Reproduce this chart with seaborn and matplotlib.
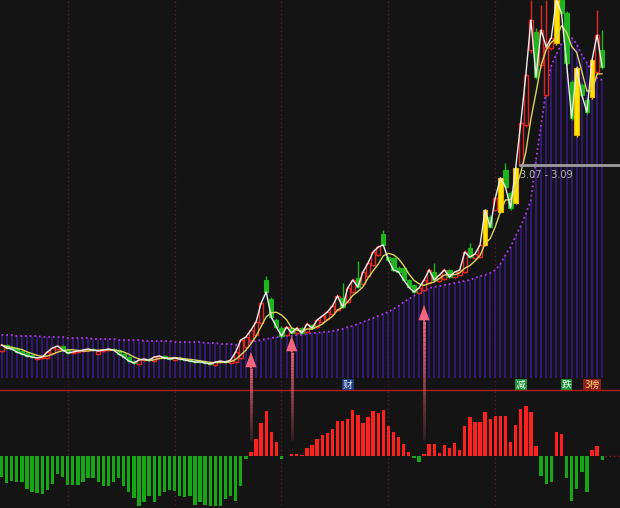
import numpy as np
import pandas as pd
import seaborn as sns
import matplotlib.pyplot as plt
from matplotlib.collections import LineCollection

BG = '#141414'
sns.set_style('dark', {'axes.facecolor': BG, 'figure.facecolor': BG})
plt.rcParams['font.family'] = ['Noto Sans CJK SC', 'DejaVu Sans']

# daily candles (price)
opens = [1.22, 1.28, 1.26, 1.25, 1.22, 1.20, 1.18, 1.14, 1.15, 1.15,
         1.20, 1.24, 1.27, 1.23, 1.20, 1.21, 1.22, 1.23, 1.24, 1.19,
         1.22, 1.23, 1.24, 1.23, 1.19, 1.16, 1.12, 1.09, 1.13, 1.14,
         1.12, 1.15, 1.17, 1.15, 1.13, 1.15, 1.14, 1.13, 1.12, 1.12,
         1.11, 1.10, 1.08, 1.11, 1.12, 1.10, 1.11, 1.15, 1.26, 1.33,
         1.38, 1.50, 1.93, 1.74, 1.53, 1.45, 1.38, 1.45, 1.40, 1.45,
         1.41, 1.48, 1.46, 1.51, 1.54, 1.59, 1.63, 1.75, 1.71, 1.81,
         1.95, 1.89, 1.97, 2.08, 2.18, 2.39, 2.16, 2.15, 2.05, 2.05,
         1.93, 1.88, 1.80, 1.83, 1.90, 2.01, 1.92, 1.94, 2.03, 1.96,
         1.98, 2.01, 2.25, 2.15, 2.16, 2.28, 2.56, 2.63, 2.61, 3.03,
         2.80, 2.70, 3.08, 3.48, 4.23, 4.41, 4.08, 3.78, 4.25, 4.30,
         4.73, 4.60, 3.91, 3.38, 3.88, 3.73, 3.76, 4.01, 4.23]
closes = [1.28, 1.25, 1.24, 1.21, 1.19, 1.17, 1.16, 1.15, 1.16, 1.21,
          1.25, 1.27, 1.23, 1.20, 1.21, 1.22, 1.23, 1.24, 1.23, 1.22,
          1.23, 1.24, 1.23, 1.19, 1.16, 1.12, 1.10, 1.13, 1.14, 1.13,
          1.16, 1.17, 1.15, 1.14, 1.15, 1.14, 1.13, 1.12, 1.11, 1.11,
          1.10, 1.09, 1.11, 1.12, 1.11, 1.13, 1.21, 1.33, 1.36, 1.43,
          1.51, 1.70, 1.81, 1.56, 1.46, 1.37, 1.46, 1.40, 1.45, 1.40,
          1.49, 1.45, 1.53, 1.57, 1.61, 1.67, 1.77, 1.66, 1.85, 1.93,
          1.86, 2.01, 2.10, 2.21, 2.26, 2.28, 2.13, 2.03, 2.01, 1.93,
          1.86, 1.81, 1.85, 1.93, 2.03, 1.93, 1.98, 2.03, 1.96, 2.01,
          2.03, 2.21, 2.16, 2.19, 2.28, 2.63, 2.46, 2.75, 2.95, 2.86,
          2.65, 3.05, 3.50, 3.98, 4.53, 3.96, 4.43, 4.26, 4.35, 4.73,
          4.60, 4.10, 3.55, 4.05, 3.78, 3.61, 4.13, 4.38, 4.06]
highs = [1.29, 1.29, 1.27, 1.26, 1.23, 1.21, 1.19, 1.16, 1.17, 1.22,
         1.26, 1.28, 1.28, 1.24, 1.22, 1.23, 1.24, 1.25, 1.25, 1.23,
         1.24, 1.25, 1.25, 1.24, 1.20, 1.17, 1.13, 1.14, 1.15, 1.15,
         1.17, 1.18, 1.18, 1.16, 1.16, 1.16, 1.15, 1.14, 1.13, 1.13,
         1.12, 1.11, 1.12, 1.13, 1.13, 1.14, 1.22, 1.34, 1.37, 1.44,
         1.52, 1.72, 1.97, 1.76, 1.55, 1.47, 1.47, 1.46, 1.47, 1.46,
         1.51, 1.49, 1.54, 1.58, 1.62, 1.68, 1.79, 1.90, 1.87, 1.95,
         2.12, 2.03, 2.12, 2.23, 2.28, 2.43, 2.17, 2.16, 2.07, 2.06,
         1.94, 1.89, 1.86, 1.94, 2.05, 2.10, 1.99, 2.05, 2.04, 2.02,
         2.04, 2.23, 2.30, 2.21, 2.30, 2.64, 2.58, 2.77, 2.96, 3.10,
         2.82, 3.06, 3.52, 4.00, 4.73, 4.45, 4.68, 4.73, 4.37, 4.73,
         4.73, 4.62, 3.93, 4.07, 3.90, 3.75, 4.15, 4.63, 4.43]
lows = [1.21, 1.24, 1.23, 1.20, 1.18, 1.16, 1.15, 1.13, 1.14, 1.14,
        1.19, 1.23, 1.22, 1.19, 1.19, 1.20, 1.21, 1.22, 1.22, 1.18,
        1.21, 1.22, 1.22, 1.18, 1.15, 1.11, 1.09, 1.08, 1.12, 1.12,
        1.11, 1.14, 1.14, 1.13, 1.12, 1.13, 1.12, 1.11, 1.10, 1.10,
        1.09, 1.08, 1.07, 1.10, 1.10, 1.09, 1.10, 1.14, 1.25, 1.32,
        1.37, 1.49, 1.79, 1.54, 1.45, 1.35, 1.37, 1.39, 1.39, 1.39,
        1.40, 1.44, 1.45, 1.50, 1.53, 1.58, 1.62, 1.65, 1.70, 1.80,
        1.85, 1.88, 1.96, 2.07, 2.17, 2.27, 2.12, 2.02, 2.00, 1.92,
        1.85, 1.80, 1.79, 1.82, 1.89, 1.92, 1.91, 1.93, 1.95, 1.95,
        1.97, 2.00, 2.15, 2.14, 2.15, 2.27, 2.45, 2.62, 2.60, 2.85,
        2.63, 2.69, 3.07, 3.46, 4.20, 3.94, 4.05, 3.76, 4.23, 4.28,
        4.58, 4.08, 3.53, 3.36, 3.76, 3.59, 3.74, 3.99, 4.04]
yellow_bars = [95, 98, 101, 109, 113, 116]

# purple band (top of the background bars)
band = [1.38, 1.38, 1.38, 1.37, 1.37, 1.37, 1.37, 1.37, 1.36, 1.36,
        1.36, 1.36, 1.36, 1.35, 1.35, 1.35, 1.35, 1.35, 1.34, 1.34,
        1.34, 1.34, 1.34, 1.33, 1.33, 1.33, 1.33, 1.33, 1.32, 1.32,
        1.32, 1.32, 1.32, 1.32, 1.31, 1.31, 1.31, 1.31, 1.31, 1.31,
        1.30, 1.30, 1.30, 1.29, 1.29, 1.29, 1.28, 1.29, 1.30, 1.31,
        1.32, 1.33, 1.34, 1.35, 1.36, 1.36, 1.37, 1.37, 1.38, 1.38,
        1.39, 1.40, 1.40, 1.41, 1.41, 1.42, 1.43, 1.44, 1.46, 1.47,
        1.49, 1.51, 1.53, 1.55, 1.57, 1.59, 1.61, 1.64, 1.67, 1.71,
        1.74, 1.77, 1.81, 1.83, 1.85, 1.86, 1.87, 1.88, 1.89, 1.90,
        1.91, 1.92, 1.93, 1.95, 1.97, 1.98, 2.00, 2.03, 2.09, 2.18,
        2.26, 2.37, 2.47, 2.59, 2.73, 3.13, 3.48, 3.83, 4.07, 4.19,
        4.29, 4.35, 4.35, 4.29, 4.18, 4.10, 4.01, 3.95, 3.93]

# lower indicator histogram
macd = [-0.021, -0.027, -0.025, -0.026, -0.026, -0.033, -0.036, -0.037, -0.038, -0.034,
        -0.028, -0.018, -0.021, -0.029, -0.029, -0.029, -0.026, -0.022, -0.022, -0.026,
        -0.030, -0.030, -0.026, -0.022, -0.030, -0.036, -0.042, -0.050, -0.046, -0.040,
        -0.046, -0.040, -0.036, -0.034, -0.035, -0.040, -0.041, -0.040, -0.049, -0.046,
        -0.049, -0.050, -0.050, -0.050, -0.043, -0.040, -0.045, -0.030, -0.003, 0.004,
        0.017, 0.033, 0.045, 0.024, 0.014, -0.003, 0.000, 0.002, 0.002, 0.001,
        0.008, 0.011, 0.017, 0.021, 0.023, 0.027, 0.035, 0.035, 0.037, 0.046,
        0.041, 0.033, 0.039, 0.045, 0.043, 0.046, 0.030, 0.024, 0.019, 0.012,
        0.004, -0.002, -0.006, 0.002, 0.012, 0.012, 0.003, 0.011, 0.008, 0.013,
        0.006, 0.030, 0.039, 0.034, 0.034, 0.044, 0.037, 0.040, 0.040, 0.040,
        0.014, 0.031, 0.047, 0.050, 0.044, 0.010, -0.020, -0.028, -0.026, 0.024,
        0.022, -0.022, -0.045, -0.033, -0.016, -0.036, 0.006, 0.010, -0.004]

month_starts = [13, 34, 55, 76, 97]
buy_bars = [49, 57, 83]
buy_tips = [1.21, 1.37, 1.68]
events = [(68, '财', '#1d3c7a', '#dfe8ff'), (102, '减', '#1f8a3a', '#eaffea'),
          (111, '跌', '#1f8a3a', '#eaffea'), (116, '3榜', '#8a1c1c', '#ffd070')]
level_bar, level_price, level_text = 101.6, 3.08, '3.07 - 3.09'

RED, GRN, YEL = '#e02626', '#1db41d', '#ffe600'
PINK = '#f2647c'

df = pd.DataFrame({'open': opens, 'close': closes, 'high': highs, 'low': lows,
                   'band': band, 'macd': macd})
df['idx'] = np.arange(len(df))
df['ma5'] = df['close'].rolling(5, min_periods=1).mean()
df['sign'] = np.where(df['macd'] >= 0, 'up', 'dn')

fig = plt.figure(figsize=(6.2, 5.08), dpi=100)
ax = fig.add_axes([0, 118 / 508, 1, 390 / 508])
ax2 = fig.add_axes([0, 0, 1, 118 / 508])
ax.set_zorder(3)
ax.patch.set_alpha(0)
XL = (-0.3, 121.5)

# background bars and dotted band line
ax.vlines(df['idx'], 0.95, df['band'], color='#3a1b8e', lw=1.1, zorder=1)
sns.lineplot(x=df['idx'], y=df['band'], ax=ax, color='#a83ee0', lw=1.3,
             linestyle=(0, (1, 1.6)), zorder=2)
ax.vlines(month_starts, 0.83, 4.73, color='#5a1a2c', lw=1, linestyles=(0, (1, 2)), zorder=0)

# candles
idx = df['idx'].values
o, c, h, l = (df[k].values for k in ['open', 'close', 'high', 'low'])
is_y = np.isin(idx, yellow_bars)
up = (c >= o) & ~is_y
dn = (c < o) & ~is_y
for m, col in [(up, RED), (dn, GRN), (is_y, '#e8c800')]:
    ax.vlines(idx[m], l[m], h[m], color=col, lw=1, zorder=3)
ax.bar(idx[up], np.maximum(c[up] - o[up], 0.008), bottom=o[up], width=0.82,
       facecolor=BG, edgecolor=RED, lw=1, zorder=4)
ax.bar(idx[dn], c[dn] - o[dn], bottom=o[dn], width=0.82,
       facecolor=GRN, edgecolor=GRN, lw=0.8, zorder=4)
ax.bar(idx[is_y], c[is_y] - o[is_y], bottom=o[is_y], width=0.9,
       facecolor=YEL, edgecolor='#f0b000', lw=0.8, zorder=4)

sns.lineplot(x=df['idx'], y=df['ma5'], ax=ax, color='#d8d460', lw=1, zorder=5)
sns.lineplot(x=df['idx'], y=df['close'], ax=ax, color='#ececec', lw=1, zorder=6)

# level line
ax.hlines(level_price, level_bar, XL[1], color='#9c9c9c', lw=2, zorder=6)
ax.text(level_bar + 0.3, level_price - 0.1, level_text, color='#b8b8b8', fontsize=7,
        va='center', ha='left', family='DejaVu Sans', zorder=7)

# event tags
for b, txt, fc, tc in events:
    ax.text(b, 0.885, txt, color=tc, fontsize=7, ha='center', va='center', zorder=7,
            bbox=dict(boxstyle='square,pad=0.1', facecolor=fc, edgecolor='none'))

# buy arrows
for b, tip in zip(buy_bars, buy_tips):
    ys = np.linspace(tip - 0.16, 0.33, 30)
    segs = [[(b, ys[k]), (b, ys[k + 1])] for k in range(len(ys) - 1)]
    alphas = np.linspace(1, 0.15, len(segs))
    lc = LineCollection(segs, colors=[(0.95, 0.39, 0.49, a) for a in alphas],
                        linewidths=2, zorder=8)
    lc.set_clip_on(False)
    ax.add_collection(lc)
    ax.annotate('', xy=(b, tip), xytext=(b, tip - 0.16), annotation_clip=False,
                arrowprops=dict(facecolor=PINK, edgecolor='none', width=1.4,
                                headwidth=8, headlength=11, shrink=0), zorder=9)

ax.set_xlim(*XL)
ax.set_ylim(0.83, 4.73)

# lower histogram
sns.barplot(x=df['idx'], y=df['macd'], hue=df['sign'], palette={'up': '#ff2020', 'dn': '#16a616'},
            native_scale=True, dodge=False, width=0.66, errorbar=None, legend=False,
            linewidth=0, edgecolor='none', saturation=1, ax=ax2)
ax2.vlines(month_starts, -0.06, 0.07, color='#5a1a2c', lw=1, linestyles=(0, (1, 2)), zorder=0)
ax2.hlines(0, 118.5, XL[1], color='#8a2020', lw=1, linestyles=(0, (1, 2)))
ax2.set_xlim(*XL)
ax2.set_ylim(-0.0523, 0.0657)

for a in (ax, ax2):
    a.set_xticks([])
    a.set_yticks([])
    a.set_xlabel('')
    a.set_ylabel('')
    for s in a.spines.values():
        s.set_visible(False)
ax2.spines['top'].set_visible(True)
ax2.spines['top'].set_color('#b01c1c')
ax2.spines['top'].set_linewidth(1)

fig.savefig('out.png', dpi=100, facecolor=BG)
